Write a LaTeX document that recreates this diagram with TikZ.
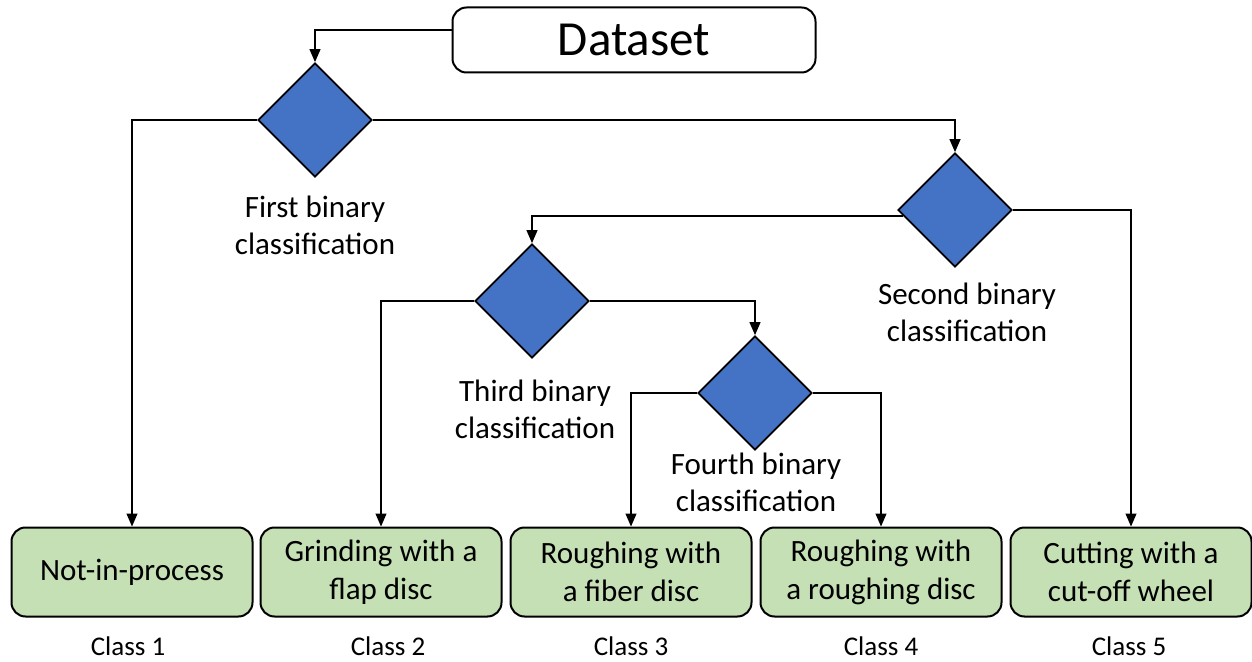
\documentclass[tikz,border=0pt]{standalone}
\usepackage{fontspec}
\setmainfont{Carlito}
\usetikzlibrary{shapes.geometric,arrows.meta}
\definecolor{diablue}{HTML}{4472C4}
\definecolor{boxgreen}{HTML}{C5E0B4}
\begin{document}
\begin{tikzpicture}[x=0.5pt,y=-0.5pt,
  dia/.style={diamond,draw=black,line width=0.9pt,fill=diablue,minimum width=57pt,minimum height=57pt,inner sep=0pt},
  cls/.style={draw=black,line width=1pt,fill=boxgreen,rounded corners=7pt,minimum width=120.5pt,minimum height=44.5pt,align=center,font=\fontsize{15.5}{19}\selectfont,inner sep=0pt},
  lbl/.style={align=center,font=\fontsize{15.5}{18.5}\selectfont,inner sep=0pt},
  clab/.style={font=\fontsize{13.5}{16}\selectfont,inner sep=0pt},
  conn/.style={draw=black,line width=0.6pt,-{Triangle[width=5.5pt,length=6.5pt]}}
]
\useasboundingbox (0,0) rectangle (1252,662);
\node[draw=black,line width=1pt,fill=white,rounded corners=7pt,minimum width=181.5pt,minimum height=32.5pt,inner sep=0pt,font=\fontsize{24.5}{28}\selectfont] (ds) at (634,40) {Dataset};
\node[dia] (d1) at (315,120) {};
\node[dia] (d2) at (955,210) {};
\node[dia] (d3) at (532,301) {};
\node[dia] (d4) at (755,393) {};
\node[lbl] (l1) at (315,225) {First binary\\classification};
\node[lbl] (l2) at (967,312) {Second binary\\classification};
\node[lbl] (l3) at (535,409) {Third binary\\classification};
\node[lbl] (l4) at (756,482) {Fourth binary\\classification};
\node[cls] (c1) at (132,572) {Not-in-process};
\node[cls] (c2) at (381,572) {Grinding with a\\flap disc};
\node[cls] (c3) at (631,572) {Roughing with\\a fiber disc};
\node[cls] (c4) at (881,572) {Roughing with\\a roughing disc};
\node[cls] (c5) at (1131,572) {Cutting with a\\cut-off wheel};
\node[clab] (k1) at (128,646) {Class 1};
\node[clab] (k2) at (388,646) {Class 2};
\node[clab] (k3) at (631,646) {Class 3};
\node[clab] (k4) at (881,646) {Class 4};
\node[clab] (k5) at (1129,646) {Class 5};
\coordinate (dsl) at ([yshift=5pt]ds.west);
\coordinate (d2w) at ([xshift=3pt,yshift=-3pt]d2.west);
\path[conn] (dsl) -| (d1.north);
\path[conn] (d1.west) -| (c1.north);
\path[conn] (d1.east) -| (d2.north);
\path[conn] (d2w) -| (d3.north);
\path[conn] (d2.east) -| (c5.north);
\path[conn] (d3.west) -| (c2.north);
\path[conn] (d3.east) -| (d4.north);
\path[conn] (d4.west) -| (c3.north);
\path[conn] (d4.east) -| (c4.north);
\end{tikzpicture}
\end{document}
